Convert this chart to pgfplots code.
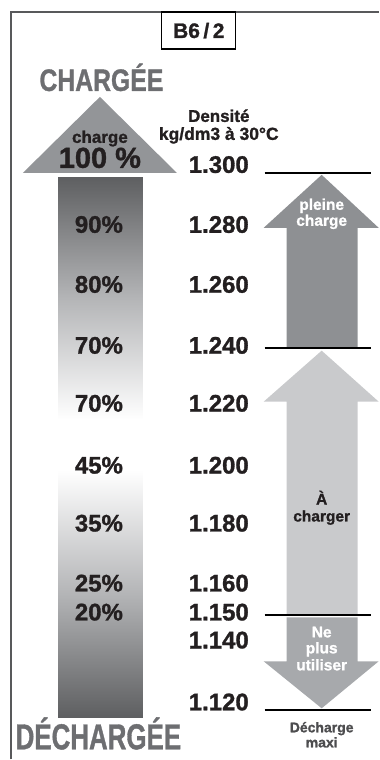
\documentclass[border=0pt]{standalone}
\usepackage{fontspec}
\setmainfont{Liberation Sans}[UprightFont={* Bold}, BoldFont={* Bold}, UprightFeatures={FakeBold=1.2}, BoldFeatures={FakeBold=1.2}]
\usepackage{graphicx}
\usepackage{pgfplots}
\pgfplotsset{compat=1.18}
\usepackage{pgfplotstable}
\definecolor{txt}{HTML}{231F20}
\definecolor{titlegray}{HTML}{6D6E71}
\definecolor{tri}{HTML}{939598}
\definecolor{darkarrow}{HTML}{8E9093}
\definecolor{lightarrow}{HTML}{C9CACC}
\definecolor{downarrow}{HTML}{A7A9AC}
\definecolor{bardark}{HTML}{5E5F61}
\definecolor{barmid}{HTML}{B4B5B7}
\definecolor{framegray}{HTML}{58595B}
\definecolor{subgray}{HTML}{4D4D4F}
\newcommand{\fs}[1]{\fontsize{#1}{#1}\selectfont\bfseries}
\pgfplotsset{colormap={barmap}{color(0cm)=(bardark) color(5cm)=(barmid) color(10cm)=(white)}}

% state of charge (%) at each density level (y = baseline position)
\pgfplotstableread{
y pct
233 90
293 80
354 70
412 70
474 45
532 35
592 25
621 20
}\pcttable
% density kg/dm3 at 30 C
\pgfplotstableread{
y dens
173 1.300
233 1.280
293 1.260
354 1.240
412 1.220
474 1.200
532 1.180
592 1.160
621 1.150
649 1.140
711 1.120
}\denstable
% gradient bar: two rectangles, shade value c (0 dark, 1 white)
\pgfplotstableread{
x y c
58 177 0
143 177 0
143 420 1
58 420 1
58 470 1
143 470 1
143 718 0
58 718 0
}\bartable

\begin{document}
\begin{tikzpicture}
\begin{axis}[
  width=379pt, height=760pt, scale only axis,
  xmin=0, xmax=379, ymin=0, ymax=760,
  y dir=reverse, hide axis, clip=false,
  point meta min=0, point meta max=1,
  every node/.append style={inner sep=0pt, outer sep=0pt},
]
% bounding corners
\addplot[draw=none, mark=none] coordinates {(0,0) (379,760)};
% frame
\addplot[framegray, line width=1.5pt, mark=none] coordinates {(11,760) (11,12) (379,12)};
% B6/2 box
\addplot[black, line width=1.2pt, mark=none] coordinates {(162,12) (162,49) (236,49) (236,12)} -- cycle;
\node[anchor=base, text=txt] at (199,38) {\fs{21}B6\,/\,2};

% titles
\node[anchor=base, text=titlegray] at (101.5,91) {\scalebox{0.8}[1]{\fs{31}CHARGÉE}};
\node[anchor=base, text=titlegray] at (98.5,750) {\scalebox{0.72}[1]{\fs{36}DÉCHARGÉE}};

% triangle head of gradient arrow
\addplot[fill=tri, draw=none, mark=none] coordinates {(23,173) (100,97) (177,173)} -- cycle;
\node[anchor=base, text=txt] at (100,143) {\fs{17}charge};
\node[anchor=base, text=txt] at (100,168) {\fs{29}100 \%};

% gradient bar
\addplot[patch, patch type=rectangle, shader=interp, colormap name=barmap, point meta=explicit]
  table[x=x, y=y, meta=c] {\bartable};
\addplot[fill=white, draw=none, mark=none] coordinates {(58,419) (143,419) (143,471) (58,471)} -- cycle;

% percent labels
\addplot[draw=none, mark=none, nodes near coords={\pgfplotspointmeta\%},
  point meta=explicit symbolic,
  nodes near coords style={anchor=base, text=txt, font=\fs{24}}]
  table[x expr=99, y=y, meta=pct] {\pcttable};

% density header
\node[anchor=base, text=txt] at (219,122) {\fs{17}Densité};
\node[anchor=base, text=txt] at (219,140) {\fs{17.5}kg/dm3 à 30°C};

% density labels
\addplot[draw=none, mark=none, nodes near coords,
  point meta=explicit symbolic,
  nodes near coords style={anchor=base, text=txt, font=\fs{24}}]
  table[x expr=219, y=y, meta=dens] {\denstable};

% arrows
\addplot[fill=darkarrow, draw=none, mark=none] coordinates
  {(287,348) (287,228) (264,228) (322,175) (379,228) (358,228) (358,348)} -- cycle;
\addplot[fill=lightarrow, draw=none, mark=none] coordinates
  {(287,616) (287,402) (264,402) (322,351) (379,402) (358,402) (358,616)} -- cycle;
\addplot[fill=downarrow, draw=none, mark=none] coordinates
  {(287,618) (358,618) (358,662) (379,662) (322,709) (264,662) (287,662)} -- cycle;

% threshold lines
\addplot[black, line width=2pt, mark=none] coordinates {(265,173) (371,173)};
\addplot[black, line width=2pt, mark=none] coordinates {(265,348) (371,348)};
\addplot[black, line width=2pt, mark=none] coordinates {(265,616) (371,616)};
\addplot[black, line width=2pt, mark=none] coordinates {(265,711) (371,711)};

% arrow texts
\node[anchor=base, text=white] at (322,210) {\fs{15.5}pleine};
\node[anchor=base, text=white] at (322,226) {\fs{15.5}charge};
\node[anchor=base, text=txt] at (322,505) {\fs{15.5}À};
\node[anchor=base, text=txt] at (322,522) {\fs{15.5}charger};
\node[anchor=base, text=white] at (322,638) {\fs{15.5}Ne};
\node[anchor=base, text=white] at (322,654) {\fs{15.5}plus};
\node[anchor=base, text=white] at (322,671) {\fs{15.5}utiliser};
\node[anchor=base, text=subgray] at (322,733) {\fs{14}Décharge};
\node[anchor=base, text=subgray] at (322,748) {\fs{14}maxi};
\end{axis}
\end{tikzpicture}
\end{document}
